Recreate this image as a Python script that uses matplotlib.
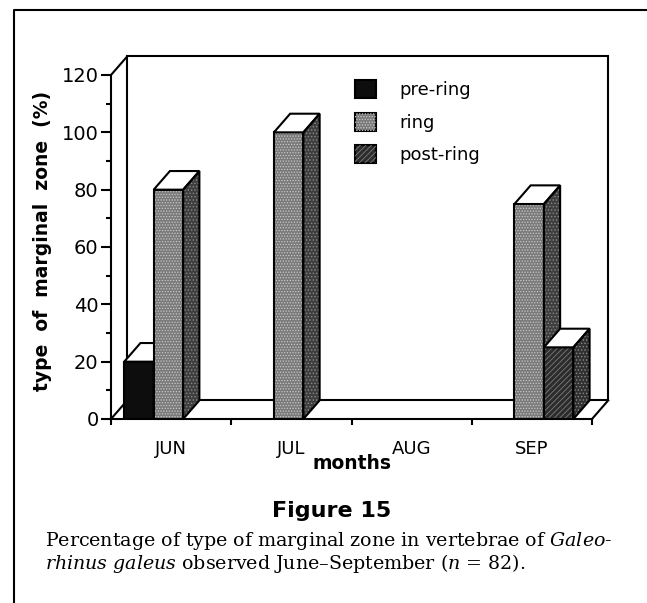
import matplotlib
matplotlib.use("Agg")
import matplotlib.pyplot as plt
from matplotlib.patches import Polygon, Patch
from matplotlib.lines import Line2D
from matplotlib.ticker import MultipleLocator, NullFormatter

# data (% of vertebrae per month)
months = ["JUN", "JUL", "AUG", "SEP"]
zone_types = ["pre-ring", "ring", "post-ring"]
pre_ring = [20, 0, 0, 0]
ring = [80, 100, 0, 75]
post_ring = [0, 0, 0, 25]

plt.rcParams["font.family"] = ["DejaVu Sans"]
plt.rcParams["hatch.linewidth"] = 0.6
plt.rcParams["mathtext.fontset"] = "custom"
plt.rcParams["mathtext.rm"] = "DejaVu Serif"
plt.rcParams["mathtext.it"] = "DejaVu Serif:italic"

W, H = 647, 603
LW = 1.5
fig = plt.figure(figsize=(W / 100, H / 100), dpi=100)
ax = fig.add_axes([111 / W, 1 - 419 / H, 481 / W, 344 / H])
ax.set_xlim(0, len(months))
ax.set_ylim(0, 120)

# depth of the fake 3D effect, in data units
dx, dy = 0.135, 6.5
bar_w = 0.245
offsets = [0.11, 0.355, 0.60]

styles = {
    "pre-ring": dict(fc="#0d0d0d", hatch=None, hc=None, sc="#0d0d0d", sh=None),
    "ring": dict(fc="#7a7a7a", hatch="......", hc="#c8c8c8", sc="#3e3e3e", sh="....."),
    "post-ring": dict(fc="#2c2c2c", hatch="//////", hc="#7c7c7c", sc="#303030", sh="....."),
}


def face(verts, fc, hatch, hc, z):
    ax.add_patch(Polygon(verts, closed=True, fc=fc, ec="none", lw=0, zorder=z, clip_on=False))
    if hatch:
        ax.add_patch(Polygon(verts, closed=True, fill=False, hatch=hatch, ec=hc, lw=0,
                             zorder=z + 0.01, clip_on=False))
    ax.add_patch(Polygon(verts, closed=True, fill=False, ec="black", lw=LW,
                         joinstyle="miter", zorder=z + 0.02, clip_on=False))


def bar3d(x, h, st, z):
    # front face
    ax.bar(x, h, bar_w, align="edge", color=st["fc"], lw=0, zorder=z)
    if st["hatch"]:
        ax.bar(x, h, bar_w, align="edge", fill=False, hatch=st["hatch"],
               edgecolor=st["hc"], lw=0, zorder=z + 0.01)
    ax.bar(x, h, bar_w, align="edge", fill=False, edgecolor="black", lw=LW, zorder=z + 0.02)
    # side and top
    r = x + bar_w
    face([(r, 0), (r + dx, dy), (r + dx, h + dy), (r, h)], st["sc"], st["sh"], "#8a8a8a", z + 0.03)
    face([(x, h), (x + dx, h + dy), (r + dx, h + dy), (r, h)], "white", None, None, z + 0.03)


# back wall and floor
n = len(months)
ax.plot([dx, dx, n + dx, n + dx, dx], [dy, 120 + dy, 120 + dy, dy, dy],
        color="black", lw=LW, clip_on=False, zorder=1, solid_joinstyle="miter")
for x0, y0 in [(0, 0), (0, 120), (n, 0)]:
    ax.plot([x0, x0 + dx], [y0, y0 + dy], color="black", lw=LW, clip_on=False, zorder=1)

z = 3
for i in range(n):
    for j, vals in enumerate([pre_ring, ring, post_ring]):
        if vals[i] > 0:
            bar3d(i + offsets[j], vals[i], styles[zone_types[j]], z)
        z += 0.1

ax.spines[["top", "right"]].set_visible(False)
for s in ["left", "bottom"]:
    ax.spines[s].set_linewidth(LW)
ax.patch.set_visible(False)

ax.set_xticks(range(n + 1))
ax.xaxis.set_major_formatter(NullFormatter())
ax.set_xticks([i + 0.5 for i in range(n)], months, minor=True)
ax.tick_params(axis="x", which="major", direction="out", length=4.5, width=LW)
ax.tick_params(axis="x", which="minor", length=0, pad=15, labelsize=13)
ax.set_yticks(range(0, 121, 20))
ax.yaxis.set_minor_locator(MultipleLocator(10))
ax.tick_params(axis="y", which="major", direction="out", length=7, width=LW, pad=2, labelsize=14)
ax.tick_params(axis="y", which="minor", direction="out", length=3.6, width=LW)

ax.set_xlabel("months", fontsize=13.5, fontweight="bold", labelpad=-3)
ax.set_ylabel("type  of  marginal  zone  (%)", fontsize=13.5, fontweight="bold")
ax.yaxis.set_label_coords(-0.123, 0.517)

handles = []
for name in zone_types:
    st = styles[name]
    base = Patch(fc=st["fc"], ec="black", lw=LW)
    if st["hatch"]:
        handles.append((base, Patch(fill=False, hatch=st["hatch"], ec=st["hc"], lw=0)))
    else:
        handles.append(base)
ax.legend(handles, zone_types, loc="upper left", bbox_to_anchor=(355 / W, 1 - 80 / H),
          bbox_transform=fig.transFigure, frameon=False, fontsize=13,
          handlelength=1.15, handleheight=1.15, handletextpad=1.3,
          labelspacing=0.75, borderpad=0, borderaxespad=0)

# caption
fig.text(332 / W, 1 - 511 / H, "Figure 15", ha="center", va="center",
         fontsize=16, fontweight="bold")
fig.text(45 / W, 1 - 546 / H,
         r"Percentage of type of marginal zone in vertebrae of $\mathit{Galeo}$-",
         family="DejaVu Serif", fontsize=13.7, va="baseline")
fig.text(45 / W, 1 - 569 / H,
         r"$\mathit{rhinus\ galeus}$ observed June–September ($\mathit{n}$ = 82).",
         family="DejaVu Serif", fontsize=13.7, va="baseline")

# page frame
fig.add_artist(Line2D([14 / W, 14 / W, 1], [0, 1 - 10 / H, 1 - 10 / H],
                      transform=fig.transFigure, color="black", lw=LW))

fig.savefig("out.png", dpi=100)
